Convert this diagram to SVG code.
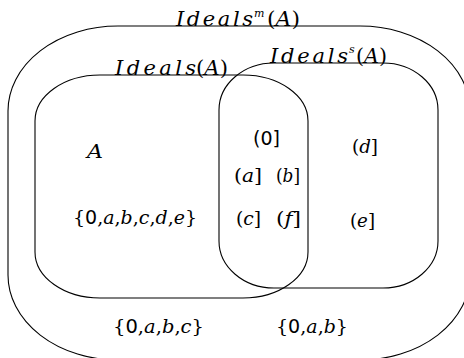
<svg xmlns="http://www.w3.org/2000/svg" width="464" height="358" viewBox="0 0 464 358">
<style>
.set{fill:none;stroke:#000;stroke-width:1.1}
.it{font-family:"DejaVu Serif",serif;font-style:italic}
.rm{font-family:"DejaVu Serif",serif;font-style:normal}
.ss{font-family:"DejaVu Sans",sans-serif;font-style:normal}
text{fill:#000;font-size:19px}
.ttl{font-size:21px}
.sup{font-size:11px}
</style>
<rect width="464" height="358" fill="#fff"/>
<g id="ideals-m">
<rect class="set" x="8" y="26" width="462" height="334" rx="110" ry="85"/>
<text class="it ttl" x="176" y="26" textLength="77" lengthAdjust="spacing">Ideals</text>
<text class="it sup" x="254" y="17">m</text>
<text class="rm ttl" x="267" y="26" textLength="33" lengthAdjust="spacingAndGlyphs">(<tspan class="it">A</tspan>)</text>
</g>
<g id="ideals">
<rect class="set" x="35" y="75" width="273" height="223" rx="65" ry="46"/>
<text class="it ttl" x="115" y="75" textLength="81" lengthAdjust="spacing">Ideals</text>
<text class="rm ttl" x="196" y="75" textLength="32" lengthAdjust="spacingAndGlyphs">(<tspan class="it">A</tspan>)</text>
</g>
<g id="ideals-s">
<rect class="set" x="219" y="63" width="219" height="225" rx="55" ry="47"/>
<text class="it ttl" x="270" y="63" textLength="78" lengthAdjust="spacing">Ideals</text>
<text class="it sup" x="349" y="53">s</text>
<text class="rm ttl" x="356" y="63" textLength="31" lengthAdjust="spacingAndGlyphs">(<tspan class="it">A</tspan>)</text>
</g>
<g id="node-A"><text class="it" x="87" y="158" font-size="19" textLength="16" lengthAdjust="spacingAndGlyphs">A</text></g>
<g id="node-set6"><text class="rm" x="73" y="224" textLength="124" lengthAdjust="spacingAndGlyphs">{<tspan class="ss">0</tspan>,<tspan class="it">a</tspan>,<tspan class="it">b</tspan>,<tspan class="it">c</tspan>,<tspan class="it">d</tspan>,<tspan class="it">e</tspan>}</text></g>
<g id="node-0"><text class="ss" x="253" y="145" textLength="27" lengthAdjust="spacingAndGlyphs">(0]</text></g>
<g id="node-a"><text class="rm" x="234" y="182" textLength="28" lengthAdjust="spacingAndGlyphs">(<tspan class="it">a</tspan>]</text></g>
<g id="node-b"><text class="rm" x="276" y="182" textLength="24" lengthAdjust="spacingAndGlyphs">(<tspan class="it">b</tspan>]</text></g>
<g id="node-c"><text class="rm" x="236" y="225" textLength="25" lengthAdjust="spacingAndGlyphs">(<tspan class="it">c</tspan>]</text></g>
<g id="node-f"><text class="rm" x="276" y="225" textLength="25" lengthAdjust="spacingAndGlyphs">(<tspan class="it">f</tspan>]</text></g>
<g id="node-d"><text class="rm" x="352" y="153" textLength="26" lengthAdjust="spacingAndGlyphs">(<tspan class="it">d</tspan>]</text></g>
<g id="node-e"><text class="rm" x="350" y="227" textLength="25" lengthAdjust="spacingAndGlyphs">(<tspan class="it">e</tspan>]</text></g>
<g id="node-set4"><text class="rm" x="113" y="333" textLength="91" lengthAdjust="spacingAndGlyphs">{<tspan class="ss">0</tspan>,<tspan class="it">a</tspan>,<tspan class="it">b</tspan>,<tspan class="it">c</tspan>}</text></g>
<g id="node-set3"><text class="rm" x="276" y="333" textLength="72" lengthAdjust="spacingAndGlyphs">{<tspan class="ss">0</tspan>,<tspan class="it">a</tspan>,<tspan class="it">b</tspan>}</text></g>
</svg>
